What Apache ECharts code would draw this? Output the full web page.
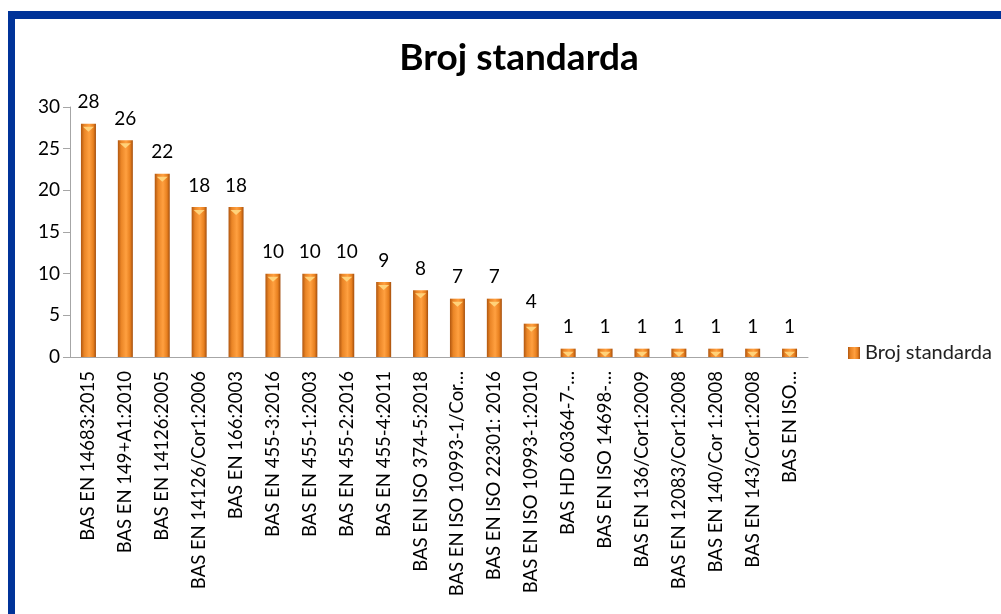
<!DOCTYPE html>
<html>
<head>
<meta charset="utf-8">
<script src="https://cdn.jsdelivr.net/npm/echarts@6/dist/echarts.min.js"></script>
<style>
  html, body { margin: 0; padding: 0; background: #fff; }
  #wrap { position: relative; width: 1001px; height: 614px; overflow: hidden; }
  #chart { position: absolute; left: 0; top: 0; width: 1001px; height: 614px; }
  #frame { position: absolute; left: 8px; top: 11px; width: 1000px; height: 700px;
           border-top: 8px solid #003399; border-left: 7px solid #003399; pointer-events: none; }
</style>
</head>
<body>
<div id="wrap">
  <div id="chart"></div>
  <div id="frame"></div>
</div>
<script>
// 标准名称
var categories = [
    'BAS EN 14683:2015', 'BAS EN 149+A1:2010', 'BAS EN 14126:2005', 'BAS EN 14126/Cor1:2006',
    'BAS EN 166:2003', 'BAS EN 455-3:2016', 'BAS EN 455-1:2003', 'BAS EN 455-2:2016',
    'BAS EN 455-4:2011', 'BAS EN ISO 374-5:2018', 'BAS EN ISO 10993-1/Cor…', 'BAS EN ISO 22301: 2016',
    'BAS EN ISO 10993-1:2010', 'BAS HD 60364-7-…', 'BAS EN ISO 14698-…', 'BAS EN 136/Cor1:2009',
    'BAS EN 12083/Cor1:2008', 'BAS EN 140/Cor 1:2008', 'BAS EN 143/Cor1:2008', 'BAS EN ISO…'
];
// 数量
var counts = [28, 26, 22, 18, 18, 10, 10, 10, 9, 8, 7, 7, 4, 1, 1, 1, 1, 1, 1, 1];
var seriesName = 'Broj standarda';

var font = 'Lato, "Open Sans", sans-serif';
var barColor = new echarts.graphic.LinearGradient(0, 0, 1, 0, [
    { offset: 0, color: '#b0560f' },
    { offset: 0.22, color: '#ea8526' },
    { offset: 0.55, color: '#ffa040' },
    { offset: 0.82, color: '#e8801f' },
    { offset: 1, color: '#a34e0d' }
]);

var option = {
    backgroundColor: '#fff',
    animation: false,
    title: {
        text: 'Broj standarda',
        left: 514,
        textAlign: 'center',
        top: 35,
        textStyle: { fontFamily: font, fontSize: 37, fontWeight: 'bold', color: '#000' }
    },
    legend: {
        data: [seriesName],
        left: 843,
        top: 338,
        itemWidth: 12,
        itemHeight: 12,
        itemGap: 6,
        icon: 'rect',
        textStyle: { fontFamily: font, fontSize: 20, color: '#222' }
    },
    grid: { left: 70, right: 193, top: 107, bottom: 257 },
    xAxis: {
        type: 'category',
        data: categories,
        axisLine: { lineStyle: { color: '#a6a6a6' } },
        axisTick: { length: 8, lineStyle: { color: '#a6a6a6' } },
        axisLabel: {
            rotate: 90,
            interval: 0,
            margin: 14,
            fontFamily: font,
            fontSize: 18.5,
            color: '#000'
        }
    },
    yAxis: {
        type: 'value',
        min: 0,
        max: 30,
        interval: 5,
        splitLine: { show: false },
        axisLine: { show: true, lineStyle: { color: '#a6a6a6' } },
        axisTick: { show: true, length: 7, lineStyle: { color: '#a6a6a6' } },
        axisLabel: { fontFamily: font, fontSize: 19, color: '#000', margin: 10 }
    },
    series: [{
        name: seriesName,
        type: 'bar',
        data: counts,
        barWidth: 15,
        itemStyle: { color: barColor },
        label: {
            show: true,
            position: 'top',
            distance: 12,
            fontFamily: font,
            fontSize: 19,
            color: '#000'
        }
    }, {
        // 柱顶高光
        name: 'cap',
        type: 'pictorialBar',
        data: counts,
        symbol: 'triangle',
        symbolRotate: 180,
        symbolSize: [11, 5],
        symbolPosition: 'end',
        symbolOffset: [0, 3],
        itemStyle: { color: '#ffd27a' },
        z: 5,
        silent: true
    }]
};

var myChart = echarts.init(document.getElementById('chart'));
myChart.setOption(option);
</script>
</body>
</html>
